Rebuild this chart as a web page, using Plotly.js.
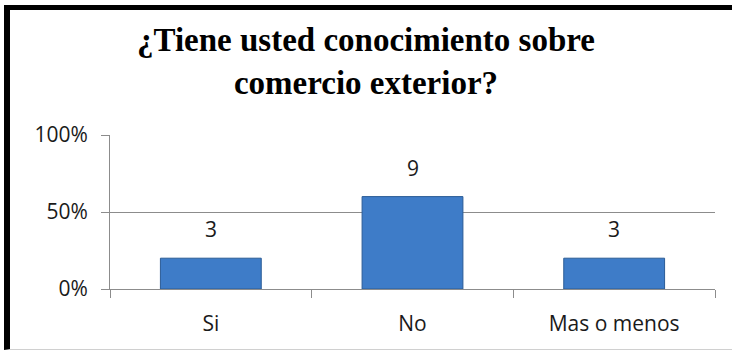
<!DOCTYPE html>
<html>
<head>
<meta charset="utf-8">
<script src="https://cdn.plot.ly/plotly-3.0.1.min.js"></script>
<style>
  html, body { margin: 0; padding: 0; background: #fff; }
  #chart { position: absolute; left: 0; top: 0; width: 732px; height: 353px; }
  #frame { position: absolute; left: 4px; top: 5px; width: 728px; height: 345px;
           border-left: 6px solid #000; border-top: 5px solid #000; border-bottom: 1px solid #d0d0d0;
           pointer-events: none; box-sizing: border-box; }
</style>
</head>
<body>
<div id="chart"></div>
<div id="frame"></div>
<script>
const categories = ["Si", "No", "Mas o menos"];
const counts = [3, 9, 3];
const shares = [0.20, 0.60, 0.20];
const yTickVals = [0, 0.5, 1];
const yTickText = ["0%", "50%", "100%"];
const titleText = "¿Tiene usted conocimiento sobre<br>comercio exterior?";

const tickFont = { family: "Open Sans, sans-serif", size: 21, color: "#1a1a1a" };

const trace = {
  type: "bar",
  x: categories,
  y: shares,
  marker: { color: "#3e7cc8", line: { color: "#2b5c96", width: 1 } },
  hoverinfo: "none"
};

const annotations = categories.map((c, i) => ({
  x: c, y: shares[i], xref: "x", yref: "y",
  text: String(counts[i]), showarrow: false,
  yanchor: "bottom", yshift: 13,
  font: tickFont
}));

const layout = {
  width: 732, height: 353,
  margin: { l: 110, r: 17, t: 135, b: 64 },
  paper_bgcolor: "rgba(0,0,0,0)",
  plot_bgcolor: "#fff",
  showlegend: false,
  bargap: 0.5,
  title: {
    text: titleText,
    font: { family: "Liberation Serif, serif", size: 33, color: "#000", weight: "bold" },
    x: 0.5, xref: "container", xanchor: "center",
    y: 0.856, yref: "container", yanchor: "middle"
  },
  xaxis: {
    type: "category",
    showgrid: false,
    showline: true, linecolor: "#8c8c8c", linewidth: 1,
    ticks: "outside", tickson: "boundaries", ticklen: 8, tickcolor: "#8c8c8c",
    tickfont: tickFont, ticklabelstandoff: 16,
    zeroline: false, fixedrange: true
  },
  yaxis: {
    range: [0, 1],
    tickvals: yTickVals, ticktext: yTickText,
    showgrid: true, gridcolor: "#8c8c8c", gridwidth: 1,
    showline: true, linecolor: "#8c8c8c", linewidth: 1,
    ticks: "outside", ticklen: 8, tickcolor: "#8c8c8c",
    tickfont: tickFont, ticklabelstandoff: 9,
    zeroline: false, fixedrange: true
  },
  annotations: annotations
};

Plotly.newPlot("chart", [trace], layout, { staticPlot: true, displayModeBar: false });
</script>
</body>
</html>
